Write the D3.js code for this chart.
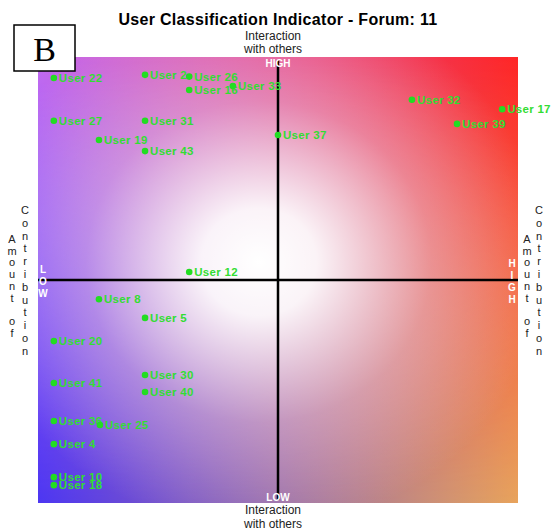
<!DOCTYPE html>
<html>
<head>
<meta charset="utf-8">
<script src="https://cdn.jsdelivr.net/npm/d3@7"></script>
<style>
  body { margin: 0; background: #fff; }
  svg { display: block; font-family: "Liberation Sans", Arial, sans-serif; }
</style>
</head>
<body>
<script>
//this is our data (interaction with others = x, amount of contribution = y, 0..100)
var userNames = ["User 22", "User 2", "User 26", "User 16", "User 33", "User 32", "User 17",
                 "User 39", "User 37", "User 27", "User 31", "User 19", "User 43", "User 12",
                 "User 8", "User 5", "User 20", "User 41", "User 30", "User 40", "User 36",
                 "User 25", "User 4", "User 10", "User 18"];
var interaction = [3.3, 22.3, 31.5, 31.5, 40.6, 77.9, 96.7,
                   87.3, 50.0, 3.3, 22.3, 12.7, 22.3, 31.5,
                   12.7, 22.3, 3.3, 3.3, 22.3, 22.3, 3.3,
                   12.9, 3.3, 3.3, 3.3];
var contribution = [95.3, 96.0, 95.6, 92.6, 93.5, 90.4, 88.3,
                    85.0, 82.5, 85.7, 85.7, 81.4, 78.9, 51.8,
                    45.7, 41.5, 36.3, 26.9, 28.7, 24.9, 18.4,
                    17.5, 13.2, 5.8, 4.0];
var axisLabels = ["LOW", "HIGH"];

var width = 551, height = 531;
var plot = { left: 38, right: 518, top: 57, bottom: 503 };

var svgContainer = d3.select("body").append("svg")
                                    .attr("width", width)
                                    .attr("height", height);

//scales
var x = d3.scaleLinear().domain([0, 100]).range([plot.left, plot.right]);
var y = d3.scaleLinear().domain([0, 100]).range([plot.bottom, plot.top]);

//background gradient: four coloured corners and a white glow in the middle
var defs = svgContainer.append("defs");

function hGrad(id, c0, c1) {
  var g = defs.append("linearGradient").attr("id", id)
              .attr("x1", 0).attr("y1", 0).attr("x2", 1).attr("y2", 0);
  g.append("stop").attr("offset", 0).attr("stop-color", c0);
  g.append("stop").attr("offset", 1).attr("stop-color", c1);
}
hGrad("topGrad", "#c46cf2", "#ff2626");
hGrad("botGrad", "#4c36f2", "#e8a45c");

var fade = defs.append("linearGradient").attr("id", "fade")
               .attr("x1", 0).attr("y1", 0).attr("x2", 0).attr("y2", 1);
fade.append("stop").attr("offset", 0).attr("stop-color", "#000");
fade.append("stop").attr("offset", 1).attr("stop-color", "#fff");

defs.append("mask").attr("id", "fadeMask")
    .attr("maskContentUnits", "objectBoundingBox")
    .append("rect").attr("width", 1).attr("height", 1).attr("fill", "url(#fade)");

var glow = defs.append("radialGradient").attr("id", "glow")
               .attr("cx", 0.46).attr("cy", 0.46).attr("r", 0.6);
glow.append("stop").attr("offset", 0).attr("stop-color", "#fff").attr("stop-opacity", 1);
glow.append("stop").attr("offset", 0.2).attr("stop-color", "#fff").attr("stop-opacity", 0.93);
glow.append("stop").attr("offset", 0.6).attr("stop-color", "#fff").attr("stop-opacity", 0.32);
glow.append("stop").attr("offset", 1).attr("stop-color", "#fff").attr("stop-opacity", 0);

var bg = svgContainer.append("g");
[["url(#topGrad)", null], ["url(#botGrad)", "url(#fadeMask)"], ["url(#glow)", null]].forEach(function (d) {
  bg.append("rect")
    .attr("x", plot.left).attr("y", plot.top)
    .attr("width", plot.right - plot.left).attr("height", plot.bottom - plot.top)
    .attr("fill", d[0])
    .attr("mask", d[1]);
});

//quadrant lines
svgContainer.append("line")
  .attr("x1", x(50)).attr("x2", x(50))
  .attr("y1", y(100) + 3).attr("y2", y(0) - 3)
  .attr("stroke", "#000").attr("stroke-width", 2.5);
svgContainer.append("line")
  .attr("x1", x(0)).attr("x2", x(100))
  .attr("y1", y(50)).attr("y2", y(50))
  .attr("stroke", "#000").attr("stroke-width", 2.5);

//LOW / HIGH markers in white
var marks = svgContainer.append("g")
  .attr("fill", "#fff").attr("font-weight", "bold").attr("font-size", 10);
marks.append("text").attr("x", x(50)).attr("y", y(100) + 10)
  .attr("text-anchor", "middle").text(axisLabels[1]);
marks.append("text").attr("x", x(50)).attr("y", y(0) - 2)
  .attr("text-anchor", "middle").text(axisLabels[0]);
marks.selectAll(".lowV").data(axisLabels[0].split("")).enter().append("text")
  .attr("x", x(0) + 5).attr("y", function (d, i) { return y(50) - 7 + i * 12; })
  .attr("text-anchor", "middle").text(function (d) { return d; });
marks.selectAll(".highV").data(axisLabels[1].split("")).enter().append("text")
  .attr("x", x(100) - 6).attr("y", function (d, i) { return y(50) - 13 + i * 12; })
  .attr("text-anchor", "middle").text(function (d) { return d; });

//points and labels
var users = svgContainer.selectAll(".user")
  .data(d3.range(userNames.length)).enter().append("g");

users.append("circle")
  .attr("cx", function (i) { return x(interaction[i]); })
  .attr("cy", function (i) { return y(contribution[i]); })
  .attr("r", 3.3)
  .style("fill", "#22dd22");

users.append("text")
  .attr("x", function (i) { return x(interaction[i]) + 5; })
  .attr("y", function (i) { return y(contribution[i]) + 4; })
  .attr("font-size", 11.5)
  .attr("letter-spacing", 0.3)
  .attr("font-weight", "bold")
  .style("fill", "#33dd33")
  .text(function (i) { return userNames[i]; });

//title and axis names
svgContainer.append("text")
  .attr("x", 278).attr("y", 25)
  .attr("text-anchor", "middle").attr("font-size", 16).attr("font-weight", "bold")
  .attr("letter-spacing", 0.3)
  .text("User Classification Indicator - Forum: 11");

var axisText = svgContainer.append("g").attr("font-size", 12).attr("fill", "#222")
                           .attr("text-anchor", "middle");
[["Interaction", 40], ["with others", 53], ["Interaction", 514], ["with others", 528]].forEach(function (d) {
  axisText.append("text").attr("x", 273).attr("y", d[1]).text(d[0]);
});

//vertical axis names, one letter per line, on both sides
var stackText = svgContainer.append("g").attr("font-size", 11).attr("fill", "#222")
                            .attr("text-anchor", "middle");
function stacked(str, xPos, y0, step) {
  stackText.selectAll(null).data(str.split("")).enter().append("text")
    .attr("x", xPos)
    .attr("y", function (d, i) { return y0 + i * step; })
    .text(function (d) { return d; });
}
stacked("Amount of", 12, 243, 11.7);
stacked("Contribution", 25, 214, 12.8);
stacked("Amount of", 527, 243, 11.7);
stacked("Contribution", 539, 214, 12.8);

//panel letter box
svgContainer.append("rect")
  .attr("x", 14).attr("y", 25).attr("width", 61).attr("height", 46)
  .attr("fill", "#fff").attr("stroke", "#000").attr("stroke-width", 1.5);
svgContainer.append("text")
  .attr("x", 44.5).attr("y", 61)
  .attr("text-anchor", "middle")
  .attr("font-family", "'Liberation Serif', 'Times New Roman', serif")
  .attr("font-size", 34)
  .text("B");
</script>
</body>
</html>
